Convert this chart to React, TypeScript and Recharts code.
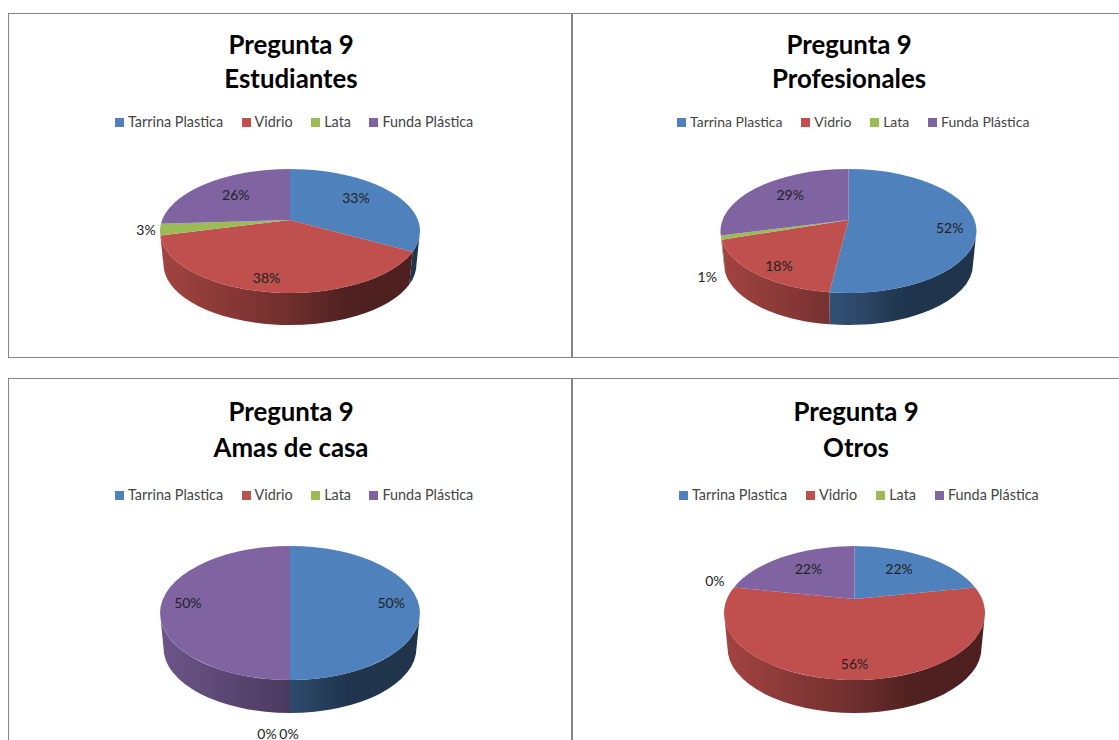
import { PieChart, Pie, Cell, Legend } from 'recharts'

const CATEGORIES = ['Tarrina Plastica', 'Vidrio', 'Lata', 'Funda Plástica']
const COLORS = ['#4f81bd', '#c0504d', '#9bbb59', '#8064a2']

const ESTUDIANTES = [33, 38, 3, 26]
const PROFESIONALES = [52, 18, 1, 29]
const AMAS_DE_CASA = [50, 0, 0, 50]
const OTROS = [22, 56, 0, 22]

const FONT = 'Lato, Carlito, sans-serif'

// label offsets from the rim point of each slice's mid angle
const PANELS = [
    {
        id: 'est', subtitle: 'Estudiantes', values: ESTUDIANTES,
        left: 8, top: 13, width: 564, height: 345,
        titleX: 290, titleTop: 13, titleLine: 34, titleClip: 90,
        legendX: 115, legendY: 122, legendGap: 18.5, legendFont: 14.4,
        cx: 290, apexY: 220, midY: 231, rx: 130, ry: 62, baseY: 264.3, baseRy: 60.7,
        offsets: [[-35, 6], [-4, -15], [-14, 0], [29, 11]],
    },
    {
        id: 'pro', subtitle: 'Profesionales', values: PROFESIONALES,
        left: 572, top: 13, width: 560, height: 345,
        titleX: 848, titleTop: 13, titleLine: 34, titleClip: 90,
        legendX: 677, legendY: 122, legendGap: 18.8, legendFont: 14,
        cx: 848.5, apexY: 220, midY: 231, rx: 128, ry: 62, baseY: 264.3, baseRy: 60.7,
        offsets: [[-26, 4], [23.5, -8], [-14, 39], [31.5, 8]],
    },
    {
        id: 'ama', subtitle: 'Amas de casa', values: AMAS_DE_CASA,
        left: 8, top: 378, width: 564, height: 380,
        titleX: 290, titleTop: 14, titleLine: 36, titleClip: 64,
        legendX: 115, legendY: 495, legendGap: 18.5, legendFont: 14.4,
        cx: 290, apexY: 599, midY: 613, rx: 130, ry: 67, baseY: 648, baseRy: 65,
        offsets: [[-26, 3], [-23, 53], [-1, 53], [25, 3]],
    },
    {
        id: 'otr', subtitle: 'Otros', values: OTROS,
        left: 572, top: 378, width: 560, height: 380,
        titleX: 855, titleTop: 14, titleLine: 36, titleClip: 64,
        legendX: 679, legendY: 495, legendGap: 19, legendFont: 14.4,
        cx: 854.5, apexY: 599, midY: 613, rx: 130.5, ry: 67, baseY: 648, baseRy: 65,
        offsets: [[-25.5, 12.5], [0, -17], [-19, -6.5], [24, 12.5]],
    },
]

const rad = (d: number) => (d * Math.PI) / 180

// pie angle (clockwise from 12 o'clock) to ellipse angle, the apex sits above the ellipse centre
function rimAngle(theta: number, p: any) {
    const e = (p.midY - p.apexY) / p.ry
    const k = Math.sqrt((1 - e) / (1 + e))
    const a = rad(theta / 2)
    const t = (2 * Math.atan2(k * Math.sin(a), Math.cos(a)) * 180) / Math.PI
    return t
}

function rim(t: number, cx: number, midY: number, rx: number, ry: number) {
    return { x: cx + rx * Math.sin(rad(t)), y: midY - ry * Math.cos(rad(t)) }
}

function shade(hex: string, f: number) {
    const n = parseInt(hex.slice(1), 16)
    const c = [n >> 16, (n >> 8) & 255, n & 255].map((v) => Math.round(v * f))
    return `rgb(${c[0]},${c[1]},${c[2]})`
}

function slice3d(props: any, p: any, index: number) {
    const { startAngle, endAngle, fill } = props
    if (Math.abs(startAngle - endAngle) < 0.01) return <g />
    const cy = p.apexY - p.top
    const midY = p.midY - p.top
    const baseY = p.baseY - p.top
    const t1 = rimAngle(90 - startAngle, p)
    const t2 = rimAngle(90 - endAngle, p)
    const a = rim(t1, p.cx - p.left, midY, p.rx, p.ry)
    const b = rim(t2, p.cx - p.left, midY, p.rx, p.ry)
    const large = t2 - t1 > 180 ? 1 : 0
    const face = `M${p.cx - p.left},${cy} L${a.x},${a.y} A${p.rx},${p.ry} 0 ${large} 1 ${b.x},${b.y} Z`

    const w1 = Math.max(t1, 90)
    const w2 = Math.min(t2, 270)
    let wall = null
    const gradId = `${p.id}-wall-${index}`
    if (w1 < w2) {
        const baseRx = p.rx - 3.5
        const ta = rim(w1, p.cx - p.left, midY, p.rx, p.ry)
        const tb = rim(w2, p.cx - p.left, midY, p.rx, p.ry)
        const ba = rim(w1, p.cx - p.left, baseY, baseRx, p.baseRy)
        const bb = rim(w2, p.cx - p.left, baseY, baseRx, p.baseRy)
        const d = `M${ta.x},${ta.y} A${p.rx},${p.ry} 0 0 1 ${tb.x},${tb.y} L${bb.x},${bb.y} A${baseRx},${p.baseRy} 0 0 0 ${ba.x},${ba.y} Z`
        wall = (
            <>
                <defs>
                    <linearGradient id={gradId} gradientUnits="userSpaceOnUse"
                        x1={p.cx - p.left - p.rx} y1="0" x2={p.cx - p.left + p.rx} y2="0">
                        <stop offset="0%" stopColor={shade(fill, 0.85)} />
                        <stop offset="50%" stopColor={shade(fill, 0.58)} />
                        <stop offset="72%" stopColor={shade(fill, 0.41)} />
                        <stop offset="100%" stopColor={shade(fill, 0.4)} />
                    </linearGradient>
                </defs>
                <path d={d} fill={`url(#${gradId})`} stroke="none" />
            </>
        )
    }
    return (
        <g>
            {wall}
            <path d={face} fill={fill} stroke="none" />
        </g>
    )
}

function ChartPanel({ p }: { p: (typeof PANELS)[number] }) {
    const data = CATEGORIES.map((name, i) => ({ name, value: p.values[i] }))

    const renderShape = (props: any, i: number) => slice3d(props, p, props.index ?? i)

    const renderLabel = (props: any) => {
        const { midAngle, value, index } = props
        const t = rimAngle(90 - midAngle, p)
        const pt = rim(t, p.cx - p.left, p.midY - p.top, p.rx, p.ry)
        const [dx, dy] = p.offsets[index]
        return (
            <text key={index} x={pt.x + dx} y={pt.y + dy} textAnchor="middle" dominantBaseline="central"
                fontFamily={FONT} fontSize={14} fill="#222">
                {`${value}%`}
            </text>
        )
    }

    const renderLegend = ({ payload }: any) => (
        <div style={{ display: 'flex', fontFamily: FONT, fontSize: p.legendFont, color: '#444', lineHeight: '16px', whiteSpace: 'nowrap' }}>
            {(payload || []).map((entry: any, i: number) => (
                <div key={entry.value} style={{ display: 'flex', alignItems: 'center', marginLeft: i ? p.legendGap : 0 }}>
                    <span style={{ width: 9, height: 9, background: entry.color, marginRight: 4 }} />
                    {entry.value}
                </div>
            ))}
        </div>
    )

    return (
        <div style={{ position: 'absolute', left: p.left, top: p.top, width: p.width, height: p.height, boxSizing: 'border-box', border: '1px solid #868686', background: '#fff' }}>
            <div style={{ position: 'absolute', left: -1, top: -1 }}>
                <PieChart width={p.width} height={p.height} margin={{ top: 0, right: 0, bottom: 0, left: 0 }}>
                    <Legend content={renderLegend} layout="horizontal" verticalAlign="top" align="left" itemSorter={null}
                        wrapperStyle={{ position: 'absolute', left: p.legendX - p.left, top: p.legendY - p.top - 8, width: 'auto' }} />
                    <Pie data={data} dataKey="value" nameKey="name"
                        cx={p.cx - p.left} cy={p.apexY - p.top} outerRadius={p.rx}
                        startAngle={90} endAngle={-270} stroke="none"
                        shape={renderShape} inactiveShape={renderShape}
                        label={renderLabel} labelLine={false} isAnimationActive={false}>
                        {data.map((d, i) => <Cell key={d.name} fill={COLORS[i]} />)}
                    </Pie>
                </PieChart>
            </div>
            <div style={{ position: 'absolute', left: p.titleX - p.left - 150, top: p.titleTop, width: 300, height: p.titleClip, overflow: 'hidden', textAlign: 'center', fontFamily: FONT, fontWeight: 700, fontSize: 25.8, lineHeight: `${p.titleLine}px`, color: '#000' }}>
                <div>Pregunta 9</div>
                <div>{p.subtitle}</div>
            </div>
        </div>
    )
}

export default function App() {
    return (
        <div style={{ position: 'absolute', left: 0, top: 0, width: 1119, height: 740, overflow: 'hidden', background: '#fff' }}>
            {PANELS.map((p) => <ChartPanel key={p.id} p={p} />)}
        </div>
    )
}
